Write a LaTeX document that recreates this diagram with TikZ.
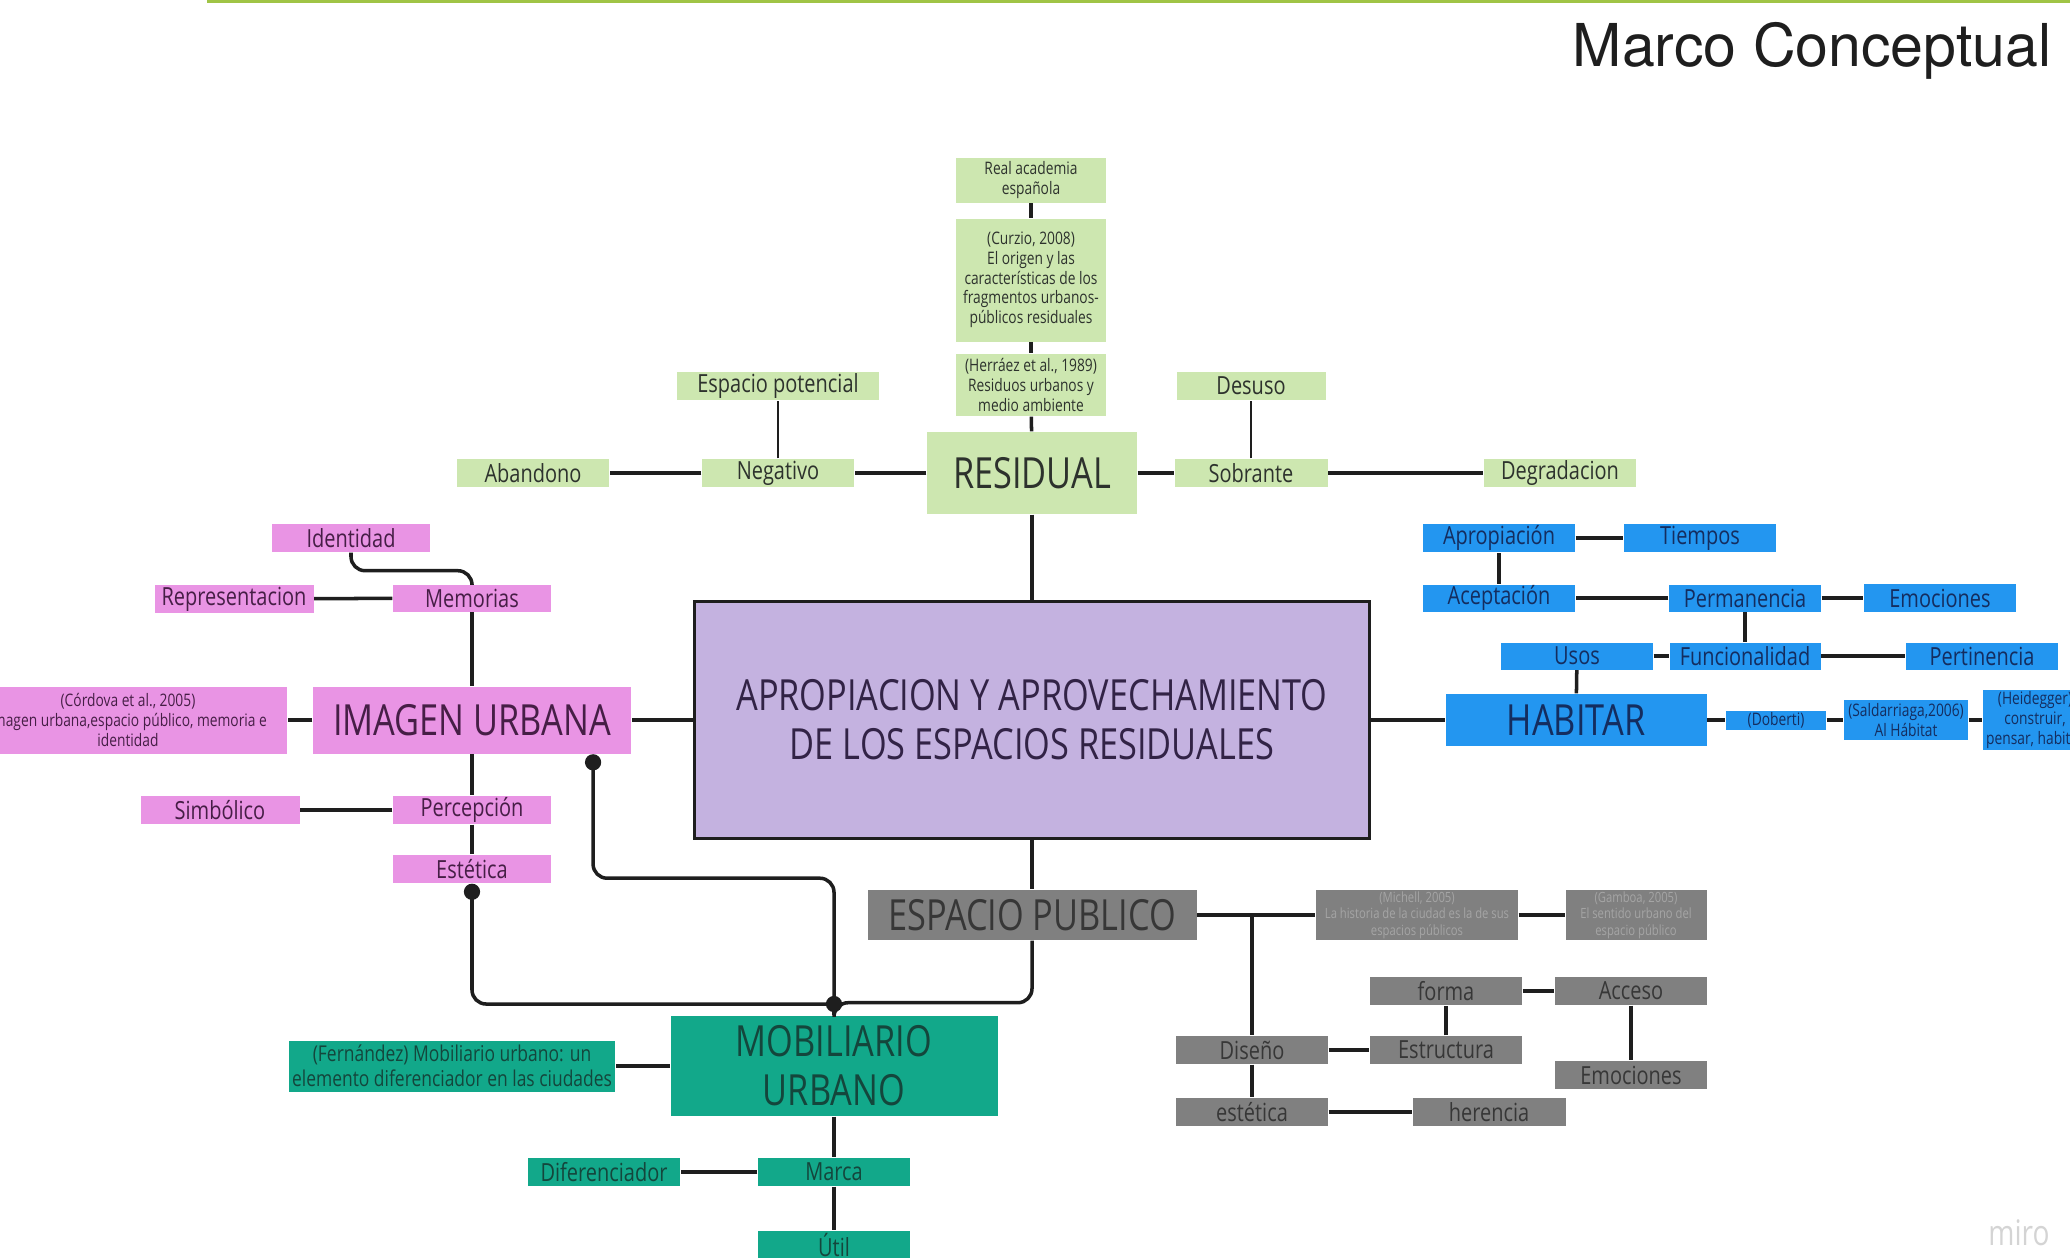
\documentclass[tikz,border=0pt]{standalone}
\usepackage{fontspec}
\setmainfont{Open Sans}[FakeStretch=0.8]
\newfontfamily\titlefamily{TeX Gyre Heros}
\usepackage{tikz}
\usetikzlibrary{arrows.meta}

\definecolor{resgreen}{RGB}{205,231,176}
\definecolor{restext}{RGB}{45,50,45}
\definecolor{imgpink}{RGB}{233,148,228}
\definecolor{imgtext}{RGB}{70,30,70}
\definecolor{habblue}{RGB}{35,150,240}
\definecolor{habtext}{RGB}{20,45,95}
\definecolor{espgray}{RGB}{128,128,128}
\definecolor{esptext}{RGB}{55,55,55}
\definecolor{espfaint}{RGB}{165,165,165}
\definecolor{mobteal}{RGB}{18,168,138}
\definecolor{mobtext}{RGB}{20,70,60}
\definecolor{aprofill}{RGB}{196,178,224}
\definecolor{aprotext}{RGB}{50,35,70}
\definecolor{linecol}{RGB}{30,30,30}
\definecolor{topgreen}{RGB}{160,196,70}
\definecolor{mirogray}{RGB}{212,212,212}

\newcommand\txtsmall{\fontsize{7.1}{8.5}\selectfont}
\newcommand\txtbig{\fontsize{12.2}{14}\selectfont}
\newcommand\txtref{\fontsize{4.9}{5.6}\selectfont}
\newcommand\txtfern{\fontsize{6.2}{7.1}\selectfont}
\newcommand\txtfaint{\fontsize{4}{4.7}\selectfont}

\begin{document}
\begin{tikzpicture}[x=0.01cm,y=-0.01cm]
	\tikzset{
		concept/.style={rectangle, inner sep=0pt, align=center, font=\txtsmall},
		bigconcept/.style={concept, font=\txtbig},
		refnote/.style={concept, font=\txtref},
		sz/.style 2 args={minimum width=#1*0.01cm, minimum height=#2*0.01cm},
		resid/.style={fill=resgreen, text=restext},
		imag/.style={fill=imgpink, text=imgtext},
		habi/.style={fill=habblue, text=habtext},
		espa/.style={fill=espgray, text=esptext},
		mobi/.style={fill=mobteal, text=mobtext},
		link/.style={draw=linecol, line width=1pt, rounded corners=4pt},
		every edge/.style={link},
		dotlink/.style={link, {Circle[length=4.6pt]}-}
	}
	\useasboundingbox (0,0) rectangle (2070,1257);
	\clip (0,0) rectangle (2070,1257);

	\draw[topgreen, line width=0.03cm] (207,1.5) -- (2070,1.5);
	\node[anchor=base east, font=\titlefamily\fontsize{16.8}{18}\selectfont, text=linecol] (title) at (2064,66) {Marco Conceptual};

	\node[bigconcept, fill=aprofill, text=aprotext, draw=linecol, line width=0.6pt, sz={675}{237}] (apro) at (1032,720) {APROPIACION Y APROVECHAMIENTO\\DE LOS ESPACIOS RESIDUALES};

	\node[refnote, resid, sz={150}{45}] (rae) at (1031,180) {Real academia\\española};
	\node[refnote, resid, sz={150}{123}] (curzio) at (1031,280) {(Curzio, 2008)\\El origen y las\\características de los\\fragmentos urbanos-\\públicos residuales};
	\node[refnote, resid, sz={150}{62}] (herraez) at (1031,385) {(Herráez et al., 1989)\\Residuos urbanos y\\medio ambiente};
	\node[bigconcept, resid, sz={210}{82}] (residual) at (1032,473) {RESIDUAL};
	\node[concept, resid, sz={152}{28}] (negativo) at (778,473) {Negativo};
	\node[concept, resid, sz={152}{28}] (abandono) at (533,473) {Abandono};
	\node[concept, resid, sz={202}{28}] (espot) at (778,386) {Espacio potencial};
	\node[concept, resid, sz={153}{28}] (sobrante) at (1251,473) {Sobrante};
	\node[concept, resid, sz={149}{28}] (desuso) at (1251,386) {Desuso};
	\node[concept, resid, sz={152}{28}] (degradacion) at (1560,473) {Degradacion};

	\node[bigconcept, imag, sz={318}{67}] (imagen) at (472,720) {IMAGEN URBANA};
	\node[refnote, imag, sz={318}{67}] (cordova) at (128,720) {(Córdova et al., 2005)\\Imagen urbana,espacio público, memoria e\\identidad};
	\node[concept, imag, sz={158}{28}] (identidad) at (351,538) {Identidad};
	\node[concept, imag, sz={158}{27}] (memorias) at (472,598) {Memorias};
	\node[concept, imag, sz={159}{28}] (representacion) at (234,599) {Representacion};
	\node[concept, imag, sz={158}{28}] (percepcion) at (472,810) {Percepción};
	\node[concept, imag, sz={159}{28}] (simbolico) at (220,810) {Simbólico};
	\node[concept, imag, sz={158}{28}] (estetica) at (472,869) {Estética};

	\node[bigconcept, habi, sz={261}{52}] (habitar) at (1576,720) {HABITAR};
	\node[concept, habi, sz={152}{28}] (apropiacion) at (1499,538) {Apropiación};
	\node[concept, habi, sz={152}{28}] (tiempos) at (1700,538) {Tiempos};
	\node[concept, habi, sz={152}{27}] (aceptacion) at (1499,598) {Aceptación};
	\node[concept, habi, sz={152}{27}] (permanencia) at (1745,598) {Permanencia};
	\node[concept, habi, sz={152}{28}] (emociones) at (1940,598) {Emociones};
	\node[concept, habi, sz={152}{27}] (usos) at (1577,656) {Usos};
	\node[concept, habi, sz={151}{27}] (funcionalidad) at (1745,656) {Funcionalidad};
	\node[concept, habi, sz={152}{27}] (pertinencia) at (1982,656) {Pertinencia};
	\node[refnote, habi, sz={100}{19}] (doberti) at (1776,720) {(Doberti)};
	\node[refnote, habi, sz={124}{40}] (saldarriaga) at (1906,720) {(Saldarriaga,2006)\\Al Hábitat};
	\node[refnote, habi, sz={104}{60}] (heidegger) at (2035,720) {(Heidegger)\\construir,\\pensar, habitar};

	\node[bigconcept, espa, sz={329}{50}] (espacio) at (1032,915) {ESPACIO PUBLICO};
	\node[concept, espa, text=espfaint, font=\txtfaint, sz={202}{50}] (michell) at (1417,915) {(Michell, 2005)\\La historia de la ciudad es la de sus\\espacios públicos};
	\node[concept, espa, text=espfaint, font=\txtfaint, sz={141}{50}] (gamboa) at (1636,915) {(Gamboa, 2005)\\El sentido urbano del\\espacio público};
	\node[concept, espa, sz={152}{28}] (forma) at (1446,991) {forma};
	\node[concept, espa, sz={152}{28}] (acceso) at (1631,991) {Acceso};
	\node[concept, espa, sz={152}{28}] (diseno) at (1252,1050) {Diseño};
	\node[concept, espa, sz={152}{28}] (estructura) at (1446,1050) {Estructura};
	\node[concept, espa, sz={152}{28}] (emocionesb) at (1631,1075) {Emociones};
	\node[concept, espa, sz={152}{28}] (esteticab) at (1252,1112) {estética};
	\node[concept, espa, sz={153}{28}] (herencia) at (1489,1112) {herencia};

	\node[bigconcept, mobi, sz={327}{100}] (mobiliario) at (834,1066) {MOBILIARIO\\URBANO};
	\node[concept, mobi, font=\txtfern, sz={326}{51}] (fernandez) at (452,1066) {(Fernández) Mobiliario urbano: un\\elemento diferenciador en las ciudades};
	\node[concept, mobi, sz={152}{28}] (marca) at (834,1172) {Marca};
	\node[concept, mobi, sz={152}{28}] (diferenciador) at (604,1172) {Diferenciador};
	\node[concept, mobi, sz={152}{28}] (util) at (834,1245) {Útil};

	\node[anchor=base east, font=\fontsize{10}{12}\selectfont, text=mirogray] (miro) at (2062,1245) {miro};

	\coordinate (hub) at (834,1004);

	\path
		(rae)

			edge (curzio)
		(curzio)

			edge (herraez)
		(herraez)

			edge (residual)
		(residual)

			edge (negativo)
			edge (sobrante)
			edge (apro)
		(negativo)

			edge (abandono)
			edge[line width=0.6pt] (espot)
		(sobrante)

			edge[line width=0.6pt] (desuso)
			edge (degradacion)
		(apro)

			edge (imagen)
			edge (habitar)
			edge (espacio)
		(imagen)

			edge (cordova)
			edge (memorias)
			edge (percepcion)
		(memorias)

			edge (representacion)
		(percepcion)

			edge (simbolico)
			edge (estetica)
		(habitar)

			edge (usos)
			edge (doberti)
		(doberti)

			edge (saldarriaga)
		(saldarriaga)

			edge (heidegger)
		(usos)

			edge (funcionalidad)
		(funcionalidad)

			edge (permanencia)
			edge (pertinencia)
		(permanencia)

			edge (aceptacion)
			edge (emociones)
		(aceptacion)

			edge (apropiacion)
		(apropiacion)

			edge (tiempos)
		(espacio)

			edge (michell)
		(michell)

			edge (gamboa)
		(diseno)

			edge (estructura)
			edge (esteticab)
		(estructura)

			edge (forma)
		(forma)

			edge (acceso)
		(acceso)

			edge (emocionesb)
		(esteticab)

			edge (herencia)
		(mobiliario)

			edge (fernandez)
			edge (marca)
		(marca)

			edge (diferenciador)
			edge (util);

	\draw[link] (identidad.south) -- ++(0,18) -| (memorias.north);
	\draw[link] (diseno.north |- espacio.east) -- (diseno.north);
	\draw[dotlink] (estetica.south) |- (hub);
	\draw[dotlink] ([xshift=1.21cm]imagen.south) -- ++(0,124) -| (hub);
	\draw[link] (espacio.south) -- ++(0,62) -| (hub);
	\draw[dotlink, shorten <=-2.3pt] (hub) -- (mobiliario.north);
\end{tikzpicture}
\end{document}
